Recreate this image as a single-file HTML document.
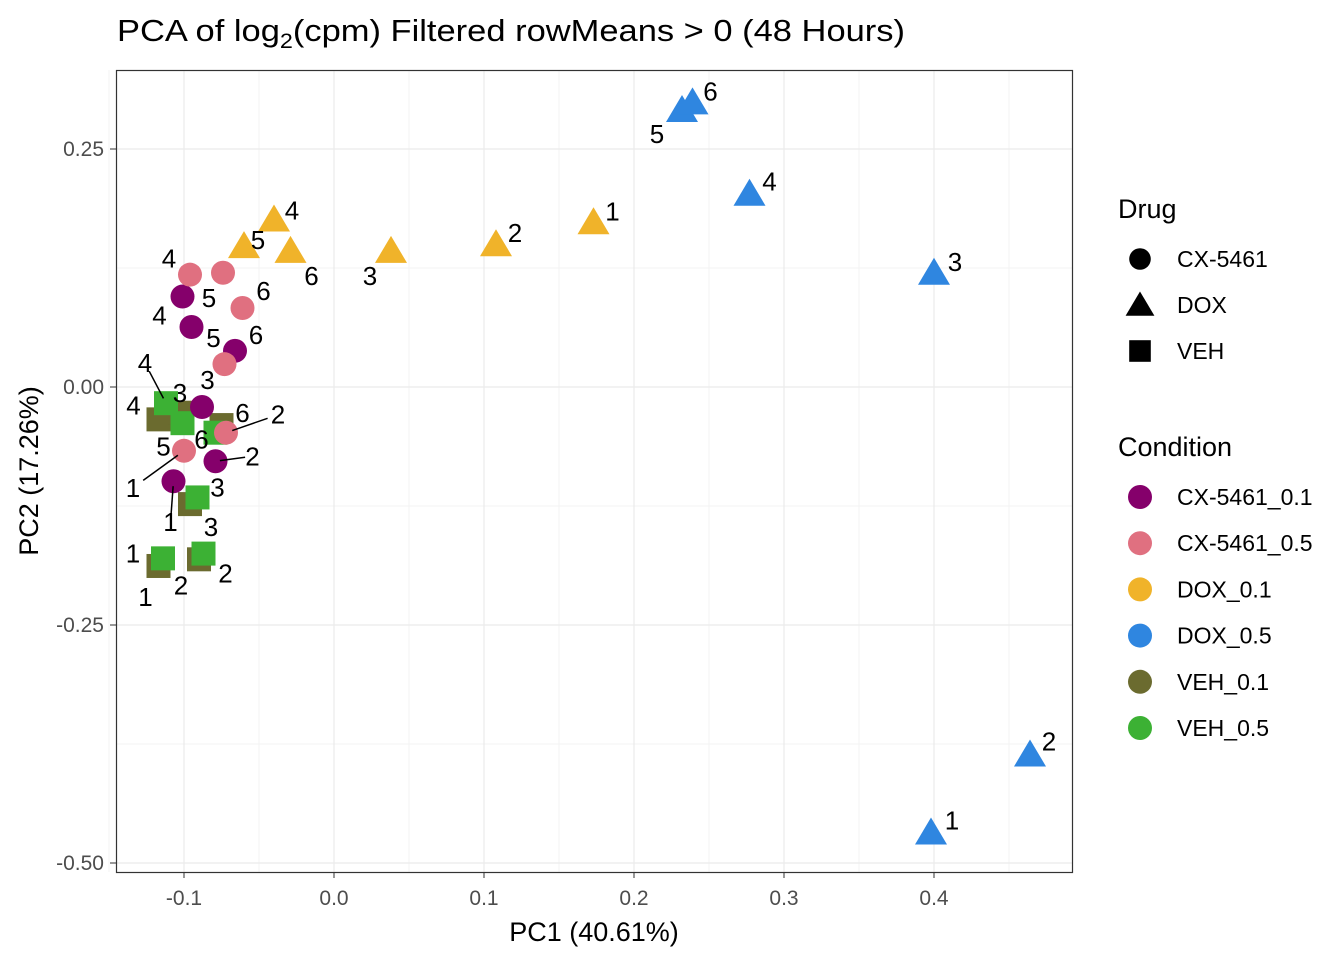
<!DOCTYPE html>
<html><head><meta charset="utf-8"><style>
body{margin:0;background:#fff;}
svg{display:block;font-family:"Liberation Sans",Arial,sans-serif;}
</style></head><body>
<svg id="chart" width="1344" height="960">
<text x="117" y="41" font-size="31" fill="#000" textLength="788" lengthAdjust="spacingAndGlyphs">PCA of log<tspan font-size="21" dy="7">2</tspan><tspan dy="-7">(cpm) Filtered rowMeans &gt; 0 (48 Hours)</tspan></text>
<g id="grid"></g><g id="ticks"></g><g id="marks"></g><g id="labels"></g>
<rect x="116.5" y="70.5" width="956" height="802" fill="none" stroke="#333" stroke-width="1.2"/>
<text x="594" y="941" font-size="27" text-anchor="middle">PC1 (40.61%)</text>
<text transform="translate(38,471) rotate(-90)" font-size="27" text-anchor="middle">PC2 (17.26%)</text>
<g id="legend"></g>
</svg>
<script>
const conditions=["CX-5461_0.1","CX-5461_0.5","DOX_0.1","DOX_0.5","VEH_0.1","VEH_0.5"];
const colors=["#85006b","#e07080","#f0b32a","#2f86e0","#6b6b2f","#3cb134"];
const shapes=["circle","circle","triangle","triangle","square","square"];
const pc1=[
[-0.107,-0.079,-0.088,-0.101,-0.095,-0.066],
[-0.100,-0.072,-0.073,-0.096,-0.074,-0.061],
[0.173,0.108,0.038,-0.040,-0.060,-0.029],
[0.398,0.464,0.400,0.277,0.232,0.239],
[-0.117,-0.090,-0.096,-0.117,-0.103,-0.075],
[-0.114,-0.087,-0.091,-0.112,-0.101,-0.079]];
const pc2=[
[-0.099,-0.078,-0.021,0.095,0.063,0.038],
[-0.067,-0.048,0.024,0.118,0.120,0.083],
[0.173,0.150,0.143,0.176,0.148,0.143],
[-0.468,-0.386,0.120,0.203,0.291,0.299],
[-0.188,-0.181,-0.123,-0.034,-0.027,-0.040],
[-0.180,-0.175,-0.116,-0.017,-0.038,-0.048]];
const sampleLabels=["1","2","3","4","5","6"];
const xTicks=[-0.1,0,0.1,0.2,0.3,0.4];
const xTickLabels=["-0.1","0.0","0.1","0.2","0.3","0.4"];
const yTicks=[0.25,0,-0.25,-0.5];
const yTickLabels=["0.25","0.00","-0.25","-0.50"];
const lblOff=[
[[-3,41,1],[37,-5,1],[-22,-14,0],[-23,19,0],[22,11,0],[21,-16,0]],
[[-51,37,1],[52,-18,1],[-17,16,0],[-21,-16,0],[-14,25,0],[21,-17,0]],
[[19,-11,0],[19,-11,0],[-21,25,0],[18,-9,0],[14,-6,0],[21,25,0]],
[[21,-12,0],[19,-13,0],[21,-11,0],[20,-12,0],[-25,24,0],[18,-11,0]],
[[-13,31,0],[-18,26,0],[21,23,0],[-25,-14,0],[-16,34,0],[21,-12,0]],
[[-30,-5,0],[22,20,0],[20,-10,0],[-21,-40,1],null,[-14,7,0]]];
const NS="http://www.w3.org/2000/svg";
const X=v=>334+v*1500, Y=v=>387-v*952;
function mk(tag,attrs,parent){const e=document.createElementNS(NS,tag);for(const k in attrs)e.setAttribute(k,attrs[k]);parent.appendChild(e);return e;}
const grid=document.getElementById('grid'),ticks=document.getElementById('ticks');
mk('rect',{x:116,y:70,width:956,height:802,fill:'#fff'},grid);
for(let i=0;i<xTicks.length;i++){
 const xm=X(xTicks[i]+0.05); if(xm<1072)mk('line',{x1:xm,x2:xm,y1:70,y2:872,stroke:'#f3f3f3','stroke-width':1},grid);
}
mk('line',{x1:X(-0.15),x2:X(-0.15),y1:70,y2:872,stroke:'#f3f3f3'},grid);
for(let i=0;i<yTicks.length-1;i++){const ym=Y(yTicks[i]-0.125);mk('line',{x1:116,x2:1072,y1:ym,y2:ym,stroke:'#f3f3f3'},grid);}
for(let i=0;i<xTicks.length;i++){
 const x=X(xTicks[i]);
 const g=mk('line',{x1:x,x2:x,y1:70,y2:872,stroke:'#ebebeb','stroke-width':1.2},grid);
 
 mk('line',{x1:x,x2:x,y1:872,y2:878,stroke:'#333'},ticks);
 const t=mk('text',{x:x,y:905,'font-size':21,fill:'#4d4d4d','text-anchor':'middle'},ticks);t.textContent=xTickLabels[i];
 
 
}
for(let i=0;i<yTicks.length;i++){
 const y=Y(yTicks[i]);
 const g=mk('line',{x1:116,x2:1072,y1:y,y2:y,stroke:'#ebebeb','stroke-width':1.2},grid);
 
 mk('line',{x1:110,x2:116,y1:y,y2:y,stroke:'#333'},ticks);
 const t=mk('text',{x:104,y:y+7,'font-size':21,fill:'#4d4d4d','text-anchor':'end'},ticks);t.textContent=yTickLabels[i];
 
 
}
function shape(kind,cx,cy,fill,parent,s){
 s=s||1;
 if(kind==='circle')return mk('circle',{cx:cx,cy:cy,r:12*s,fill:fill},parent);
 if(kind==='square')return mk('rect',{x:cx-12*s,y:cy-12*s,width:24*s,height:24*s,fill:fill},parent);
 return mk('polygon',{points:`${cx},${cy-15*s} ${cx+16*s},${cy+12*s} ${cx-16*s},${cy+12*s}`,fill:fill},parent);
}
const marks=document.getElementById('marks'),labels=document.getElementById('labels');
const order=[4,5,0,1,2,3];
order.forEach(c=>{
 for(let i=0;i<pc1[c].length;i++){
  const px=X(pc1[c][i]),py=Y(pc2[c][i]);
  const m=shape(shapes[c],px,py,colors[c],marks);
  
  
  const o=lblOff[c][i]; if(!o)continue;
  if(o[2]){const l=mk('line',{x1:px+o[0]*0.8,y1:py+o[1]*0.8,x2:px+o[0]*0.12,y2:py+o[1]*0.12,stroke:'#000','stroke-width':1.5},labels);
   }
  const t=mk('text',{x:px+o[0],y:py+o[1]+9,'font-size':26,'text-anchor':'middle',fill:'#000'},labels);
  t.textContent=sampleLabels[i];
  
  
 }
});
const lg=document.getElementById('legend');
const drugs=["CX-5461","DOX","VEH"],drugShapes=["circle","triangle","square"];
let t=mk('text',{x:1118,y:218,'font-size':27},lg);t.textContent="Drug";

drugs.forEach((d,i)=>{const y=259+i*46;
 const g=mk('g',{},lg);
 shape(drugShapes[i],1140,y,'#000',g,0.9);
 const tx=mk('text',{x:1177,y:y+8,'font-size':23},g);tx.textContent=d;});
t=mk('text',{x:1118,y:456,'font-size':27},lg);t.textContent="Condition";

conditions.forEach((d,i)=>{const y=497+i*46.2;
 const g=mk('g',{},lg);
 mk('circle',{cx:1140,cy:y,r:12,fill:colors[i]},g);
 const tx=mk('text',{x:1177,y:y+8,'font-size':23},g);tx.textContent=d;});
</script>
</body></html>
